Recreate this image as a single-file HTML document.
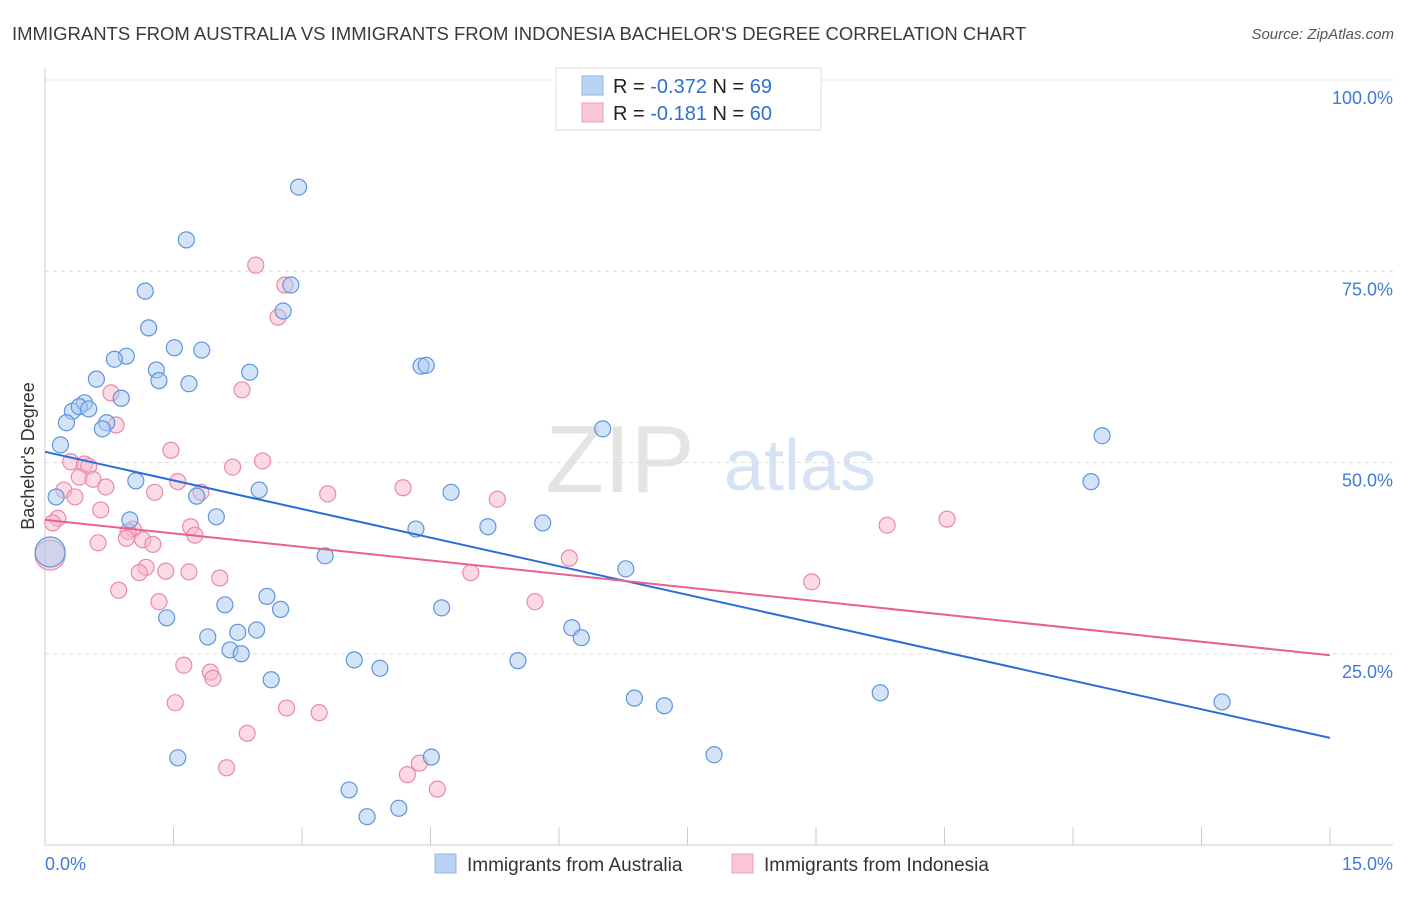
<!DOCTYPE html>
<html><head><meta charset="utf-8"><style>
body{margin:0;background:#fff;font-family:"Liberation Sans",sans-serif;}
svg text{font-family:"Liberation Sans",sans-serif;}
</style></head><body>
<svg id="chart" width="1406" height="892">
<text x="12" y="40" font-size="18.5" fill="#3a3a3a">IMMIGRANTS FROM AUSTRALIA VS IMMIGRANTS FROM INDONESIA BACHELOR'S DEGREE CORRELATION CHART</text>
<text x="1394" y="39" font-size="15" fill="#555" text-anchor="end" font-style="italic">Source: ZipAtlas.com</text>
<text x="620" y="492" font-size="96" fill="#e4e4e4" font-family="Liberation Serif" text-anchor="middle">ZIP</text>
<text x="800" y="490" font-size="72" fill="#d6e3f5" text-anchor="middle">atlas</text>
<text transform="translate(34,456) rotate(-90)" font-size="18" fill="#333" text-anchor="middle">Bachelor's Degree</text>
<g id="grid"></g><g id="axes"></g><g id="pts"></g><g id="trend"></g>
<g>
<rect x="556" y="68" width="265" height="62" fill="#fff" stroke="#ddd"/>
<rect x="582" y="76" width="21" height="19" fill="#b9d3f3" stroke="#8fb4e6"/>
<rect x="582" y="103" width="21" height="19" fill="#f9c6d6" stroke="#ee9fb9"/>
<text x="613" y="93" font-size="20" fill="#222">R = <tspan fill="#2f6fd0">-0.372</tspan>   N = <tspan fill="#2f6fd0">69</tspan></text>
<text x="613" y="120" font-size="20" fill="#222">R =  <tspan fill="#2f6fd0">-0.181</tspan>   N = <tspan fill="#2f6fd0">60</tspan></text>
</g>
<g>
<rect x="435" y="854" width="21" height="19" fill="#b9d3f3" stroke="#8fb4e6"/>
<text x="467" y="871" font-size="19" fill="#333">Immigrants from Australia</text>
<rect x="732" y="854" width="21" height="19" fill="#f9c6d6" stroke="#ee9fb9"/>
<text x="764" y="871" font-size="19" fill="#333">Immigrants from Indonesia</text>
</g>
</svg>
<script>
const blueX=[2.96,1.65,1.17,2.87,2.78,1.21,1.51,1.83,0.95,0.81,1.30,1.33,1.68,2.39,0.60,4.39,4.45,0.89,0.32,0.46,0.40,0.51,0.25,0.72,0.67,0.18,6.51,12.34,12.21,1.06,2.50,4.74,0.13,1.77,2.00,0.99,4.33,5.17,5.81,3.27,6.78,2.59,2.10,2.75,4.63,1.42,2.25,1.90,2.47,6.15,6.26,2.16,2.29,3.61,3.91,5.52,2.64,6.88,7.23,9.75,13.74,1.55,4.51,7.81,3.55,3.76,4.13,0.06];
const blueY=[86.0,79.1,72.4,73.2,69.8,67.6,65.0,64.7,63.9,63.5,62.1,60.7,60.3,61.8,60.9,62.6,62.7,58.4,56.7,57.8,57.3,57.0,55.2,55.2,54.4,52.3,54.4,53.5,47.5,47.6,46.4,46.1,45.5,45.6,42.9,42.5,41.3,41.6,42.1,37.8,36.1,32.5,31.4,30.8,31.0,29.7,27.8,27.2,28.1,28.4,27.1,25.5,25.0,24.2,23.1,24.1,21.6,19.2,18.2,19.9,18.7,11.4,11.5,11.8,7.2,3.7,4.8,38.3];
const pinkX=[2.46,2.80,2.72,2.30,0.77,0.83,1.47,0.30,0.46,0.51,2.19,2.54,0.40,0.56,1.55,0.71,1.28,0.22,0.35,1.82,3.30,4.18,5.28,0.15,0.09,0.65,1.70,1.75,1.03,0.97,1.14,1.26,0.95,0.62,9.83,10.53,6.12,1.18,1.41,1.68,1.10,2.04,4.97,8.95,0.86,1.33,5.72,1.62,1.93,1.96,1.52,2.82,3.20,2.36,2.12,4.37,4.23,4.58,0.06];
const pinkY=[75.8,73.2,69.0,59.5,59.1,54.9,51.6,50.1,49.8,49.5,49.4,50.2,48.1,47.8,47.5,46.8,46.1,46.4,45.5,46.1,45.9,46.7,45.2,42.7,42.1,43.8,41.6,40.5,41.3,41.0,39.9,39.3,40.1,39.5,41.8,42.6,37.5,36.3,35.8,35.7,35.6,34.9,35.6,34.4,33.3,31.8,31.8,23.5,22.6,21.8,18.6,17.9,17.3,14.6,10.1,10.7,9.2,7.3,37.9];
const blueTrend=[51.4,14.0];
const pinkTrend=[42.5,24.8];
const yTicks=[25,50,75,100];
const yTickLabels=["25.0%","50.0%","75.0%","100.0%"];
const xTicks=[0,1.5,3,4.5,6,7.5,9,10.5,12,13.5,15];
const NS="http://www.w3.org/2000/svg";
const sx=v=>45+v/15*1285;
const sy=v=>845-v/100*765;
function mk(p,tag,a){const e=document.createElementNS(NS,tag);for(const k in a)e.setAttribute(k,a[k]);p.appendChild(e);return e;}
const grid=document.getElementById('grid'),axes=document.getElementById('axes'),pts=document.getElementById('pts'),tr=document.getElementById('trend');
yTicks.forEach((t,i)=>{
  const l=mk(grid,'line',{x1:45,x2:1393,y1:sy(t),y2:sy(t),stroke:'#ddd','stroke-dasharray':'4,4'});
  
  
  const tx=mk(axes,'text',{x:1393,y:sy(t)+24,'font-size':18,fill:'#3f7bd6','text-anchor':'end'});
  tx.textContent=yTickLabels[i];
  
  
});
mk(axes,'line',{x1:45,x2:45,y1:68,y2:845,stroke:'#ccc'});
const xa=mk(axes,'line',{x1:45,x2:1393,y1:845,y2:845,stroke:'#ccc'});


xTicks.forEach(t=>{
  const tk=mk(axes,'line',{x1:sx(t),x2:sx(t),y1:827,y2:845,stroke:'#ccc'});
  
  
});
const xl0=mk(axes,'text',{x:45,y:870,'font-size':18,fill:'#3f7bd6'});xl0.textContent='0.0%';


const xl1=mk(axes,'text',{x:1393,y:870,'font-size':18,fill:'#3f7bd6','text-anchor':'end'});xl1.textContent='15.0%';


function drawPts(X,Y,fill,stroke,name){
  X.forEach((x,i)=>{
    const big=i===X.length-1;
    const c=mk(pts,'circle',{cx:sx(x),cy:sy(Y[i]),r:big?15:8,fill:fill,'fill-opacity':0.5,stroke:stroke,'stroke-width':1.2});
    
    
  });
}
drawPts(pinkX,pinkY,'#f7b6ca','#e98aaa','point-indonesia');
drawPts(blueX,blueY,'#a9c9f1','#5f95da','point-australia');
const lb=mk(tr,'line',{x1:sx(0),y1:sy(blueTrend[0]),x2:sx(15),y2:sy(blueTrend[1]),stroke:'#2a6fd6','stroke-width':2});


const lp=mk(tr,'line',{x1:sx(0),y1:sy(pinkTrend[0]),x2:sx(15),y2:sy(pinkTrend[1]),stroke:'#e8608e','stroke-width':2});


</script>
</body></html>
